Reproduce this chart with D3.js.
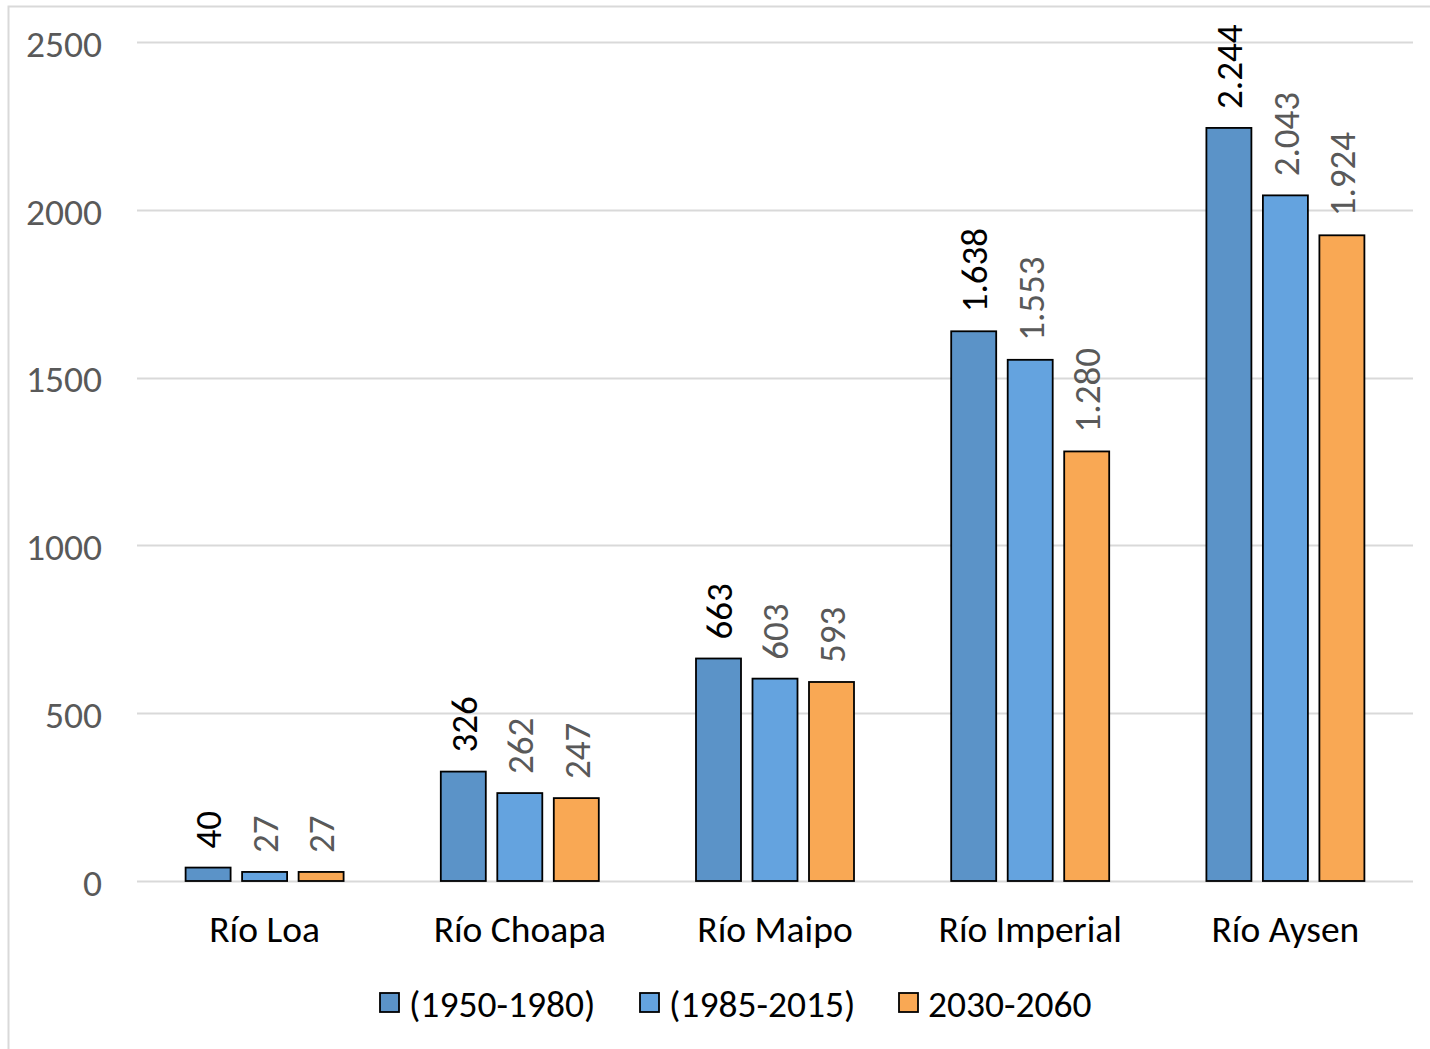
<!DOCTYPE html>
<html>
<head>
<meta charset="utf-8">
<script src="https://cdn.jsdelivr.net/npm/d3@7"></script>
<style>
  html, body { margin: 0; padding: 0; background: #fff; }
  svg { display: block; }
  text { font-family: Carlito, Calibri, "Open Sans", sans-serif; }
</style>
</head>
<body>
<svg id="chart" width="1430" height="1049"></svg>
<script>
// Caudal medio por cuenca y periodo
const categories = ["Río Loa", "Río Choapa", "Río Maipo", "Río Imperial", "Río Aysen"];
const seriesNames = ["(1950-1980)", "(1985-2015)", "2030-2060"];
const values1950 = [40, 326, 663, 1638, 2244];
const values1985 = [27, 262, 603, 1553, 2043];
const values2030 = [27, 247, 593, 1280, 1924];
const yTicks = [0, 500, 1000, 1500, 2000, 2500];

const seriesValues = [values1950, values1985, values2030];
const colors = ["#5B93C8", "#64A3DF", "#F9A854"];
const labelColors = ["#000000", "#595959", "#595959"];
const FONT = 'Carlito, Calibri, "Open Sans", sans-serif';

const svg = d3.select("#chart");
const W = 1430, H = 1049;
const plot = { left: 137, right: 1413, top: 42, bottom: 881 };

// outer chart frame
svg.append("rect")
  .attr("x", 8.5).attr("y", 6.5)
  .attr("width", W).attr("height", H)
  .attr("fill", "none").attr("stroke", "#D9D9D9").attr("stroke-width", 2);

const x0 = d3.scaleBand().domain(categories).range([plot.left, plot.right]).paddingInner(0).paddingOuter(0);
const y = d3.scaleLinear().domain([0, 2500]).range([plot.bottom, plot.top]);

// gridlines
svg.append("g").selectAll("line").data(yTicks).join("line")
  .attr("x1", plot.left).attr("x2", plot.right)
  .attr("y1", d => Math.round(y(d)) + 0.5).attr("y2", d => Math.round(y(d)) + 0.5)
  .attr("stroke", "#D9D9D9").attr("stroke-width", 2);

// y axis labels
const yAxis = d3.axisLeft(y).tickValues(yTicks).tickSize(0).tickPadding(0).tickFormat(d3.format("d"));
const yg = svg.append("g").attr("transform", `translate(102,0)`).call(yAxis);
yg.select(".domain").remove();
yg.selectAll("text")
  .attr("fill", "#595959").attr("font-size", 37.5)
  .attr("font-family", FONT)
  .attr("dy", "0.38em");

// bars
const barW = 45, gap = 11.5;
const groupW = barW * 3 + gap * 2;
const x1 = d3.scaleBand().domain(d3.range(3)).range([0, groupW]).paddingInner(gap / (barW + gap)).paddingOuter(0);

const groups = svg.append("g").selectAll("g").data(categories).join("g")
  .attr("transform", d => `translate(${x0(d) + x0.bandwidth() / 2 - groupW / 2},0)`);

const cells = groups.selectAll("g.cell")
  .data((c, i) => seriesValues.map((vals, s) => ({ s, v: vals[i] })))
  .join("g").attr("class", "cell");

cells.append("rect")
  .attr("x", d => x1(d.s))
  .attr("y", d => y(d.v))
  .attr("width", x1.bandwidth())
  .attr("height", d => y(0) - y(d.v))
  .attr("fill", d => colors[d.s])
  .attr("stroke", "#000").attr("stroke-width", 1.8);

// value labels, thousands separated with a dot
const fmt = v => v >= 1000 ? d3.format(",")(v).replace(/,/g, ".") : String(v);
cells.append("text")
  .attr("transform", d => `translate(${x1(d.s) + x1.bandwidth() / 2},${y(d.v) - 19}) rotate(-90)`)
  .attr("text-anchor", "start")
  .attr("dy", "0.36em")
  .attr("font-size", 37)
  .attr("fill", d => labelColors[d.s])
  .text(d => fmt(d.v));

// category axis
const xAxis = d3.axisBottom(x0).tickSize(0).tickPadding(0);
const xg = svg.append("g").attr("transform", `translate(0,${plot.bottom})`).call(xAxis);
xg.select(".domain").remove();
xg.selectAll("text")
  .attr("fill", "#000").attr("font-size", 37.5)
  .attr("font-family", FONT)
  .attr("dy", 0).attr("y", 61);

// legend
const legendX = [380, 640, 899];
const legend = svg.append("g").selectAll("g").data(seriesNames).join("g")
  .attr("transform", (d, i) => `translate(${legendX[i]},993)`);
legend.append("rect")
  .attr("width", 19).attr("height", 19)
  .attr("fill", (d, i) => colors[i])
  .attr("stroke", "#000").attr("stroke-width", 1.8);
legend.append("text")
  .attr("x", 29).attr("y", 10).attr("dy", "0.36em")
  .attr("font-size", 37.5).attr("fill", "#000")
  .text(d => d);
</script>
</body>
</html>
